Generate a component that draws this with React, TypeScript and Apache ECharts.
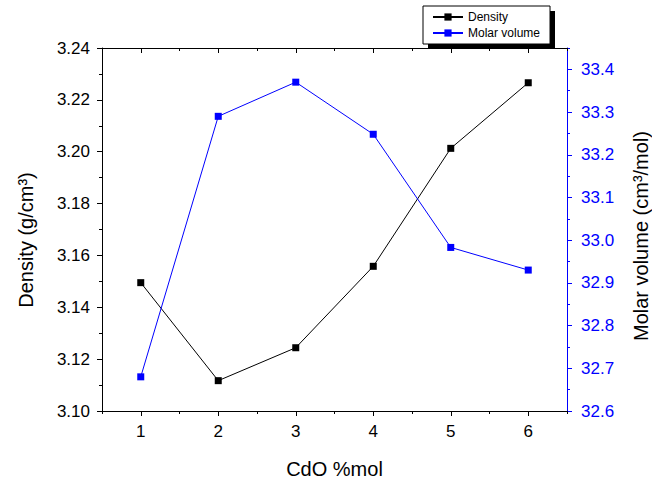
import React, { useEffect, useRef } from 'react';
import * as echarts from 'echarts';

const categories = [1, 2, 3, 4, 5, 6];
const density = [3.1495, 3.1117, 3.1244, 3.1558, 3.2013, 3.2266];
const molarVolume = [32.68, 33.29, 33.37, 33.248, 32.983, 32.93];
const xMajorTicks = [1, 2, 3, 4, 5, 6];
const xMinorTicks = [0.5, 1.5, 2.5, 3.5, 4.5, 5.5, 6.5];
const mvMajorTicks = [32.6, 32.7, 32.8, 32.9, 33.0, 33.1, 33.2, 33.3, 33.4];
const mvMinorTicks = [32.65, 32.75, 32.85, 32.95, 33.05, 33.15, 33.25, 33.35, 33.45];
const seriesNames = ['Density', 'Molar volume'];

const FONT = "Arial, 'Liberation Sans', sans-serif";
const BLUE = '#0000ff';

export default function App() {
  const ref = useRef<HTMLDivElement>(null);
  useEffect(() => {
    const chart = echarts.init(ref.current!, null, { renderer: 'svg' });
    const xBase = (position: string) => ({
      type: 'value',
      position,
      min: 0.5,
      max: 6.5,
      splitLine: { show: false },
      axisLine: { show: false, onZero: false, lineStyle: { color: '#000', width: 1 } },
      axisLabel: { show: false },
    });
    const option: any = {
      animation: false,
      backgroundColor: '#fff',
      textStyle: { fontFamily: FONT },
      grid: { left: 102, right: 85, top: 48, bottom: 75, containLabel: false },
      legend: {
        orient: 'vertical',
        left: 423,
        top: 6,
        data: seriesNames,
        padding: [5, 10, 5, 9],
        itemGap: 4,
        itemWidth: 30,
        itemHeight: 9,
        backgroundColor: '#fff',
        borderColor: '#000',
        borderWidth: 1,
        borderRadius: 0,
        textStyle: { fontSize: 12, color: '#000', fontFamily: FONT },
      },
      graphic: [
        { type: 'rect', z: 0, shape: { x: 428, y: 11, width: 127, height: 38 }, style: { fill: '#000' } },
        {
          type: 'text', x: 26, y: 240, rotation: Math.PI / 2,
          style: { text: 'Density (g/cm³)', fontSize: 20, fontFamily: FONT, fill: '#000', align: 'center', verticalAlign: 'middle' },
        },
        {
          type: 'text', x: 641, y: 236, rotation: Math.PI / 2,
          style: { text: 'Molar volume (cm³/mol)', fontSize: 20, fontFamily: FONT, fill: '#000', align: 'center', verticalAlign: 'middle' },
        },
      ],
      xAxis: [
        {
          ...xBase('bottom'),
          axisLine: { show: true, onZero: false, lineStyle: { color: '#000', width: 1 } },
          axisTick: { show: true, customValues: xMajorTicks, length: 5, inside: false, lineStyle: { color: '#000' } },
          axisLabel: { show: true, customValues: xMajorTicks, fontSize: 17, color: '#000', margin: 12, fontFamily: FONT },
          name: 'CdO %mol',
          nameLocation: 'middle',
          nameGap: 48,
          nameTextStyle: { fontSize: 20, color: '#000', fontFamily: FONT },
        },
        {
          ...xBase('bottom'),
          axisTick: { show: true, customValues: xMinorTicks, length: 3, inside: false, lineStyle: { color: '#000' } },
        },
        {
          ...xBase('top'),
          axisLine: { show: true, onZero: false, lineStyle: { color: '#000', width: 1 } },
          axisTick: { show: true, customValues: xMajorTicks, length: 5, inside: true, lineStyle: { color: '#000' } },
        },
        {
          ...xBase('top'),
          axisTick: { show: true, customValues: xMinorTicks, length: 3, inside: true, lineStyle: { color: '#000' } },
        },
      ],
      yAxis: [
        {
          type: 'value',
          position: 'left',
          min: 3.1,
          max: 3.24,
          interval: 0.02,
          splitLine: { show: false },
          axisLine: { show: true, onZero: false, lineStyle: { color: '#000', width: 1 } },
          axisTick: { show: true, length: 5, lineStyle: { color: '#000' } },
          minorTick: { show: true, splitNumber: 2, length: 3, lineStyle: { color: '#000' } },
          axisLabel: { fontSize: 17, color: '#000', margin: 12, fontFamily: FONT, formatter: (v: number) => v.toFixed(2) },
        },
        {
          type: 'value',
          position: 'right',
          min: 32.6,
          max: 33.45,
          splitLine: { show: false },
          axisLine: { show: true, onZero: false, lineStyle: { color: BLUE, width: 1 } },
          axisTick: { show: true, customValues: mvMajorTicks, length: 5, lineStyle: { color: BLUE } },
          axisLabel: { customValues: mvMajorTicks, fontSize: 17, color: BLUE, margin: 14, fontFamily: FONT, formatter: (v: number) => v.toFixed(1) },
        },
        {
          type: 'value',
          position: 'right',
          min: 32.6,
          max: 33.45,
          splitLine: { show: false },
          axisLine: { show: false, onZero: false },
          axisTick: { show: true, customValues: mvMinorTicks, length: 3, lineStyle: { color: BLUE } },
          axisLabel: { show: false },
        },
      ],
      series: [
        {
          name: seriesNames[0],
          type: 'line',
          xAxisIndex: 0,
          yAxisIndex: 0,
          data: categories.map((c, i) => [c, density[i]]),
          symbol: 'rect',
          symbolSize: 7,
          lineStyle: { color: '#000', width: 1 },
          itemStyle: { color: '#000' },
        },
        {
          name: seriesNames[1],
          type: 'line',
          xAxisIndex: 0,
          yAxisIndex: 1,
          data: categories.map((c, i) => [c, molarVolume[i]]),
          symbol: 'rect',
          symbolSize: 7,
          lineStyle: { color: BLUE, width: 1 },
          itemStyle: { color: BLUE },
        },
      ],
    };
    chart.setOption(option);
    return () => chart.dispose();
  }, []);
  return (
    <div
      ref={ref}
      style={{ position: 'absolute', left: 0, top: 0, width: 652, height: 486, background: '#fff' }}
    />
  );
}
